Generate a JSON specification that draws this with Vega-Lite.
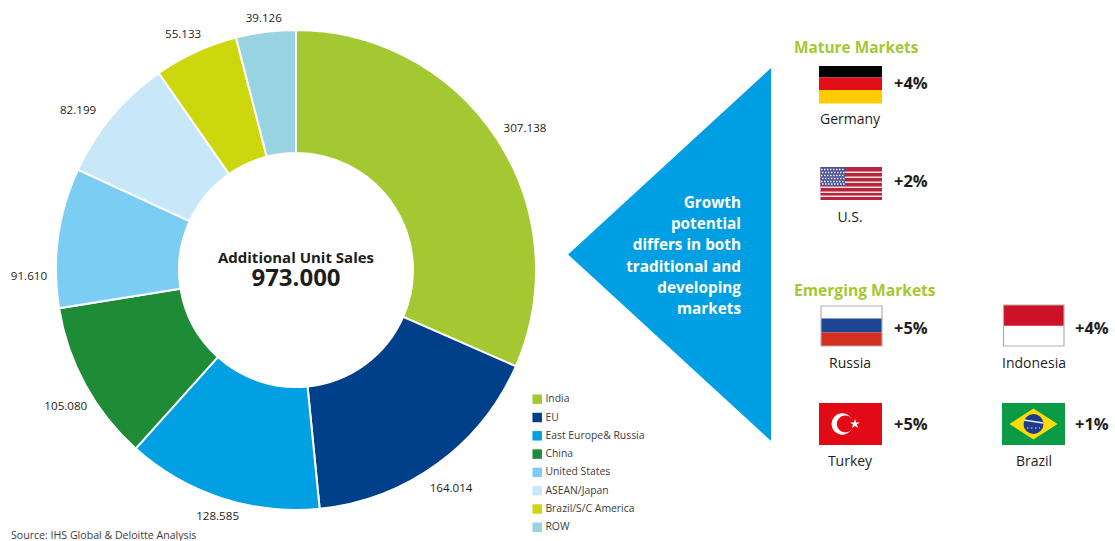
{
  "$schema": "https://vega.github.io/schema/vega-lite/v6.json",
  "width": 1115,
  "height": 541,
  "padding": 0,
  "autosize": {"type": "none"},
  "background": "#ffffff",
  "config": {
    "axis": {"disable": true},
    "view": {"stroke": null},
    "text": {"font": "Open Sans", "fill": "#1d1d1b", "baseline": "middle"},
    "rect": {"strokeWidth": 0}
  },
  "datasets": {
    "sales": [
      {"rank": 1, "region": "India", "units": 307.138, "label": "307.138"},
      {"rank": 2, "region": "EU", "units": 164.014, "label": "164.014"},
      {"rank": 3, "region": "East Europe& Russia", "units": 128.585, "label": "128.585"},
      {"rank": 4, "region": "China", "units": 105.08, "label": "105.080"},
      {"rank": 5, "region": "United States", "units": 91.61, "label": "91.610"},
      {"rank": 6, "region": "ASEAN/Japan", "units": 82.199, "label": "82.199"},
      {"rank": 7, "region": "Brazil/S/C America", "units": 55.133, "label": "55.133"},
      {"rank": 8, "region": "ROW", "units": 39.126, "label": "39.126"}
    ],
    "markets": [
      {"country": "Germany", "change": "+4%"},
      {"country": "U.S.", "change": "+2%"},
      {"country": "Russia", "change": "+5%"},
      {"country": "Indonesia", "change": "+4%"},
      {"country": "Turkey", "change": "+5%"},
      {"country": "Brazil", "change": "+1%"}
    ],
    "note": [{"kind": "annotation"}]
  },
  "data": {"name": "sales"},
  "layer": [
    {
      "mark": {"type": "arc", "outerRadius": 240, "innerRadius": 117, "stroke": "#ffffff", "strokeWidth": 2},
      "encoding": {
        "x": {"datum": 296, "type": "quantitative", "scale": {"domain": [0, 1115], "nice": false, "zero": false}},
        "y": {"datum": 270, "type": "quantitative", "scale": {"domain": [541, 0], "nice": false, "zero": false}},
        "theta": {"field": "units", "type": "quantitative", "stack": true},
        "order": {"field": "rank", "type": "quantitative"},
        "color": {
          "field": "region",
          "type": "nominal",
          "sort": null,
          "scale": {
            "domain": ["India", "EU", "East Europe& Russia", "China", "United States", "ASEAN/Japan", "Brazil/S/C America", "ROW"],
            "range": ["#a4c831", "#003f8a", "#00a0e3", "#1e8c36", "#7ccdf3", "#c8e8fa", "#cdd70e", "#97d3e0"]
          },
          "legend": {
            "orient": "none",
            "legendX": 532,
            "legendY": 394,
            "title": null,
            "padding": 0,
            "symbolType": "square",
            "symbolSize": 90,
            "symbolStrokeWidth": 0,
            "labelFont": "Open Sans",
            "labelFontSize": 10.4,
            "labelColor": "#3c3c3b",
            "labelOffset": 3,
            "rowPadding": 7.3
          }
        }
      }
    },
    {
      "transform": [
        {"stack": "units", "sort": [{"field": "rank", "order": "ascending"}], "as": ["sumStart", "sumEnd"]},
        {"calculate": "(datum.sumStart + datum.sumEnd) / 2", "as": "sliceMiddle"}
      ],
      "layer": [
        {"transform": [{"filter": "datum.rank === 1"}], "mark": {"type": "text", "align": "center", "fontSize": 11.6, "radius": 268, "dx": 4.7, "dy": 5.7}},
        {"transform": [{"filter": "datum.rank === 2"}], "mark": {"type": "text", "align": "center", "fontSize": 11.6, "radius": 268, "dx": -2.5, "dy": 2.2}},
        {"transform": [{"filter": "datum.rank === 3"}], "mark": {"type": "text", "align": "center", "fontSize": 11.6, "radius": 268, "dx": 5, "dy": -8}},
        {"transform": [{"filter": "datum.rank === 4"}], "mark": {"type": "text", "align": "center", "fontSize": 11.6, "radius": 268, "dx": 5, "dy": 9}},
        {"transform": [{"filter": "datum.rank === 5"}], "mark": {"type": "text", "align": "center", "fontSize": 11.6, "radius": 268, "dx": -1.5, "dy": 43}},
        {"transform": [{"filter": "datum.rank === 6"}], "mark": {"type": "text", "align": "center", "fontSize": 11.6, "radius": 268, "dx": -12.4, "dy": 13}},
        {"transform": [{"filter": "datum.rank === 7"}], "mark": {"type": "text", "align": "center", "fontSize": 11.6, "radius": 268, "dx": -1, "dy": 8.6}},
        {"transform": [{"filter": "datum.rank === 8"}], "mark": {"type": "text", "align": "center", "fontSize": 11.6, "radius": 268, "dx": 1.5, "dy": 15}}
      ],
      "encoding": {
        "x": {"datum": 296, "type": "quantitative"},
        "y": {"datum": 270, "type": "quantitative"},
        "theta": {"field": "sliceMiddle", "type": "quantitative", "stack": null},
        "text": {"field": "label"}
      }
    },
    {
      "data": {"name": "note"},
      "layer": [
        {
          "mark": {"type": "text", "align": "center", "fontSize": 15, "fontWeight": "bold", "text": "Additional Unit Sales"},
          "encoding": {"x": {"datum": 296}, "y": {"datum": 258}}
        },
        {
          "mark": {"type": "text", "align": "center", "fontSize": 24, "fontWeight": "bold", "text": "973.000"},
          "encoding": {"x": {"datum": 296}, "y": {"datum": 279}}
        },
        {
          "mark": {"type": "point", "shape": "M-1.088 0L0 -1L0 1Z", "size": 139129, "filled": true, "color": "#009fe3", "opacity": 1, "strokeWidth": 0},
          "encoding": {"x": {"datum": 771}, "y": {"datum": 254.5}}
        },
        {
          "mark": {
            "type": "text", "align": "right", "fontSize": 15.3, "fontWeight": "bold", "fill": "#ffffff", "lineHeight": 21.2,
            "text": ["Growth", "potential", "differs in both", "traditional and", "developing", "markets"]
          },
          "encoding": {"x": {"datum": 741}, "y": {"datum": 203}}
        },
        {
          "mark": {"type": "text", "align": "left", "fontSize": 15.4, "fontWeight": "bold", "fill": "#a4c831", "text": "Mature Markets"},
          "encoding": {"x": {"datum": 794}, "y": {"datum": 47.5}}
        },
        {
          "mark": {"type": "text", "align": "left", "fontSize": 15.6, "fontWeight": "bold", "fill": "#a4c831", "text": "Emerging Markets"},
          "encoding": {"x": {"datum": 794}, "y": {"datum": 290.5}}
        },
        {
          "mark": {"type": "text", "align": "left", "fontSize": 10.6, "fill": "#3c3c3b", "text": "Source: IHS Global & Deloitte Analysis"},
          "encoding": {"x": {"datum": 11}, "y": {"datum": 535.5}}
        },

        {"mark": {"type": "rect", "fill": "#000000"}, "encoding": {"x": {"datum": 819}, "x2": {"datum": 882}, "y": {"datum": 66}, "y2": {"datum": 77.5}}},
        {"mark": {"type": "rect", "fill": "#e20e17"}, "encoding": {"x": {"datum": 819}, "x2": {"datum": 882}, "y": {"datum": 77.5}, "y2": {"datum": 90}}},
        {"mark": {"type": "rect", "fill": "#ffcc00"}, "encoding": {"x": {"datum": 819}, "x2": {"datum": 882}, "y": {"datum": 90}, "y2": {"datum": 103.5}}},

        {"mark": {"type": "rect", "fill": "#b6263c"}, "encoding": {"x": {"datum": 820.5}, "x2": {"datum": 882}, "y": {"datum": 167}, "y2": {"datum": 200}}},
        {"mark": {"type": "rect", "fill": "#f4dfe2"}, "encoding": {"x": {"datum": 820.5}, "x2": {"datum": 882}, "y": {"datum": 171.5}, "y2": {"datum": 173}}},
        {"mark": {"type": "rect", "fill": "#f4dfe2"}, "encoding": {"x": {"datum": 820.5}, "x2": {"datum": 882}, "y": {"datum": 176.5}, "y2": {"datum": 178}}},
        {"mark": {"type": "rect", "fill": "#f4dfe2"}, "encoding": {"x": {"datum": 820.5}, "x2": {"datum": 882}, "y": {"datum": 181.5}, "y2": {"datum": 183}}},
        {"mark": {"type": "rect", "fill": "#f4dfe2"}, "encoding": {"x": {"datum": 820.5}, "x2": {"datum": 882}, "y": {"datum": 186.5}, "y2": {"datum": 188}}},
        {"mark": {"type": "rect", "fill": "#f4dfe2"}, "encoding": {"x": {"datum": 820.5}, "x2": {"datum": 882}, "y": {"datum": 191.5}, "y2": {"datum": 193}}},
        {"mark": {"type": "rect", "fill": "#f4dfe2"}, "encoding": {"x": {"datum": 820.5}, "x2": {"datum": 882}, "y": {"datum": 195.5}, "y2": {"datum": 197}}},
        {"mark": {"type": "rect", "fill": "#4a4f8f"}, "encoding": {"x": {"datum": 820.5}, "x2": {"datum": 845}, "y": {"datum": 167}, "y2": {"datum": 186}}},
        {"mark": {"type": "rule", "color": "#ffffff", "strokeWidth": 1.4, "strokeDash": [1.5, 1.5]}, "encoding": {"x": {"datum": 821}, "x2": {"datum": 845}, "y": {"datum": 169.5}}},
        {"mark": {"type": "rule", "color": "#ffffff", "strokeWidth": 1.4, "strokeDash": [1.5, 1.5]}, "encoding": {"x": {"datum": 822}, "x2": {"datum": 845}, "y": {"datum": 172.5}}},
        {"mark": {"type": "rule", "color": "#ffffff", "strokeWidth": 1.4, "strokeDash": [1.5, 1.5]}, "encoding": {"x": {"datum": 821}, "x2": {"datum": 845}, "y": {"datum": 175.5}}},
        {"mark": {"type": "rule", "color": "#ffffff", "strokeWidth": 1.4, "strokeDash": [1.5, 1.5]}, "encoding": {"x": {"datum": 822}, "x2": {"datum": 845}, "y": {"datum": 178.5}}},
        {"mark": {"type": "rule", "color": "#ffffff", "strokeWidth": 1.4, "strokeDash": [1.5, 1.5]}, "encoding": {"x": {"datum": 821}, "x2": {"datum": 845}, "y": {"datum": 181.5}}},
        {"mark": {"type": "rule", "color": "#ffffff", "strokeWidth": 1.4, "strokeDash": [1.5, 1.5]}, "encoding": {"x": {"datum": 822}, "x2": {"datum": 845}, "y": {"datum": 184}}},

        {"mark": {"type": "rect", "fill": "#ffffff"}, "encoding": {"x": {"datum": 821}, "x2": {"datum": 882}, "y": {"datum": 306}, "y2": {"datum": 318.5}}},
        {"mark": {"type": "rect", "fill": "#1c4596"}, "encoding": {"x": {"datum": 821}, "x2": {"datum": 882}, "y": {"datum": 318.5}, "y2": {"datum": 332.5}}},
        {"mark": {"type": "rect", "fill": "#d52f1f"}, "encoding": {"x": {"datum": 821}, "x2": {"datum": 882}, "y": {"datum": 332.5}, "y2": {"datum": 346}}},
        {"mark": {"type": "rect", "fill": "transparent", "stroke": "#b0b0b0", "strokeWidth": 1.2}, "encoding": {"x": {"datum": 821}, "x2": {"datum": 882}, "y": {"datum": 306}, "y2": {"datum": 346}}},

        {"mark": {"type": "rect", "fill": "#ffffff"}, "encoding": {"x": {"datum": 1003.5}, "x2": {"datum": 1064}, "y": {"datum": 305}, "y2": {"datum": 346}}},
        {"mark": {"type": "rect", "fill": "#ce1126"}, "encoding": {"x": {"datum": 1003.5}, "x2": {"datum": 1064}, "y": {"datum": 305}, "y2": {"datum": 325.7}}},
        {"mark": {"type": "rect", "fill": "transparent", "stroke": "#b0b0b0", "strokeWidth": 1.2}, "encoding": {"x": {"datum": 1003.5}, "x2": {"datum": 1064}, "y": {"datum": 305}, "y2": {"datum": 346}}},

        {"mark": {"type": "rect", "fill": "#e30a17"}, "encoding": {"x": {"datum": 819}, "x2": {"datum": 882}, "y": {"datum": 403}, "y2": {"datum": 445}}},
        {"mark": {"type": "point", "shape": "circle", "size": 458, "filled": true, "color": "#ffffff", "opacity": 1, "strokeWidth": 0}, "encoding": {"x": {"datum": 842.3}, "y": {"datum": 424}}},
        {"mark": {"type": "point", "shape": "circle", "size": 289, "filled": true, "color": "#e30a17", "opacity": 1, "strokeWidth": 0}, "encoding": {"x": {"datum": 845.3}, "y": {"datum": 424}}},
        {"mark": {"type": "point", "shape": "M-1 -.31L-.24 -.31L0 -1L.24 -.31L1 -.31L.38 .12L.62 .81L0 .38L-.62 .81L-.38 .12Z", "size": 100, "filled": true, "color": "#ffffff", "opacity": 1, "strokeWidth": 0}, "encoding": {"x": {"datum": 855}, "y": {"datum": 424}}},

        {"mark": {"type": "rect", "fill": "#0b9a46"}, "encoding": {"x": {"datum": 1002}, "x2": {"datum": 1065}, "y": {"datum": 403}, "y2": {"datum": 445}}},
        {"mark": {"type": "point", "shape": "M-1 0L0 -.65L1 0L0 .65Z", "size": 2304, "filled": true, "color": "#fbdc0a", "opacity": 1, "strokeWidth": 0}, "encoding": {"x": {"datum": 1033.5}, "y": {"datum": 424}}},
        {"mark": {"type": "point", "shape": "circle", "size": 400, "filled": true, "color": "#1f3a8c", "opacity": 1, "strokeWidth": 0}, "encoding": {"x": {"datum": 1033.5}, "y": {"datum": 424}}},
        {"mark": {"type": "rule", "color": "#e8eef5", "strokeWidth": 1.5}, "encoding": {"x": {"datum": 1024}, "x2": {"datum": 1043}, "y": {"datum": 420}, "y2": {"datum": 423}}},
        {"mark": {"type": "rule", "color": "#e8eef5", "strokeWidth": 1.2, "strokeDash": [1.5, 2.5]}, "encoding": {"x": {"datum": 1027}, "x2": {"datum": 1040}, "y": {"datum": 428}}}
      ]
    },
    {
      "data": {"name": "markets"},
      "layer": [
        {"transform": [{"filter": "datum.country === 'Germany'"}], "mark": {"type": "text", "align": "left", "fontSize": 16.5, "fontWeight": "bold"}, "encoding": {"x": {"datum": 894}, "y": {"datum": 84}, "text": {"field": "change"}}},
        {"transform": [{"filter": "datum.country === 'U.S.'"}], "mark": {"type": "text", "align": "left", "fontSize": 16.5, "fontWeight": "bold"}, "encoding": {"x": {"datum": 894}, "y": {"datum": 182}, "text": {"field": "change"}}},
        {"transform": [{"filter": "datum.country === 'Russia'"}], "mark": {"type": "text", "align": "left", "fontSize": 16.5, "fontWeight": "bold"}, "encoding": {"x": {"datum": 894}, "y": {"datum": 329}, "text": {"field": "change"}}},
        {"transform": [{"filter": "datum.country === 'Turkey'"}], "mark": {"type": "text", "align": "left", "fontSize": 16.5, "fontWeight": "bold"}, "encoding": {"x": {"datum": 894}, "y": {"datum": 425}, "text": {"field": "change"}}},
        {"transform": [{"filter": "datum.country === 'Indonesia'"}], "mark": {"type": "text", "align": "left", "fontSize": 16.5, "fontWeight": "bold"}, "encoding": {"x": {"datum": 1075}, "y": {"datum": 329}, "text": {"field": "change"}}},
        {"transform": [{"filter": "datum.country === 'Brazil'"}], "mark": {"type": "text", "align": "left", "fontSize": 16.5, "fontWeight": "bold"}, "encoding": {"x": {"datum": 1075}, "y": {"datum": 425}, "text": {"field": "change"}}},
        {"transform": [{"filter": "datum.country === 'Germany'"}], "mark": {"type": "text", "align": "center", "fontSize": 14}, "encoding": {"x": {"datum": 850}, "y": {"datum": 120}, "text": {"field": "country"}}},
        {"transform": [{"filter": "datum.country === 'U.S.'"}], "mark": {"type": "text", "align": "center", "fontSize": 14}, "encoding": {"x": {"datum": 850}, "y": {"datum": 218}, "text": {"field": "country"}}},
        {"transform": [{"filter": "datum.country === 'Russia'"}], "mark": {"type": "text", "align": "center", "fontSize": 14}, "encoding": {"x": {"datum": 850}, "y": {"datum": 364}, "text": {"field": "country"}}},
        {"transform": [{"filter": "datum.country === 'Turkey'"}], "mark": {"type": "text", "align": "center", "fontSize": 14}, "encoding": {"x": {"datum": 850}, "y": {"datum": 462}, "text": {"field": "country"}}},
        {"transform": [{"filter": "datum.country === 'Indonesia'"}], "mark": {"type": "text", "align": "center", "fontSize": 14}, "encoding": {"x": {"datum": 1034}, "y": {"datum": 364}, "text": {"field": "country"}}},
        {"transform": [{"filter": "datum.country === 'Brazil'"}], "mark": {"type": "text", "align": "center", "fontSize": 14}, "encoding": {"x": {"datum": 1034}, "y": {"datum": 462}, "text": {"field": "country"}}}
      ]
    }
  ]
}
